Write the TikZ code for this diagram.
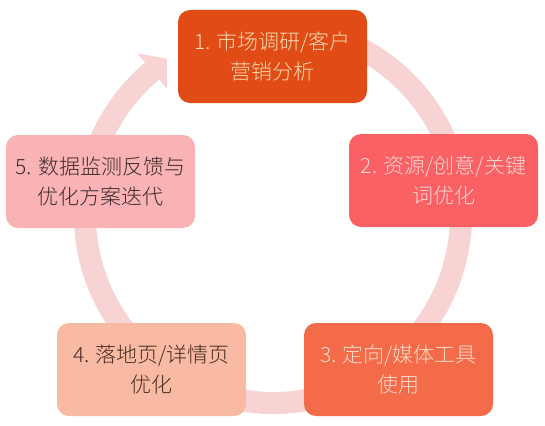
\documentclass[tikz,border=0pt]{standalone}
\usepackage{fontspec}
\usetikzlibrary{calc}
\newfontfamily\cjk{Noto Sans CJK SC Light}
\definecolor{ringc}{HTML}{F7D3D3}
\definecolor{c1}{HTML}{E14B15}
\definecolor{c2}{HTML}{F96164}
\definecolor{c3}{HTML}{F36B49}
\definecolor{c4}{HTML}{F8BAA3}
\definecolor{c5}{HTML}{F9B3B5}
\definecolor{t1}{HTML}{F8D9B0}
\definecolor{t2}{HTML}{FCD6D4}
\definecolor{t3}{HTML}{FBD8C8}
\definecolor{t4}{HTML}{4A2C22}
\definecolor{t5}{HTML}{3F2A2B}
\begin{document}
\begin{tikzpicture}[x=1pt,y=1pt,
  stepbox/.style={rounded corners=12pt, minimum width=189pt, minimum height=93pt,
    inner sep=0pt, align=center, font=\cjk\fontsize{21}{30}\selectfont},
  ringline/.style={draw=ringc, line width=22pt}]
\useasboundingbox (0,0) rectangle (545,-425);
\fill[white] (0,0) rectangle (545,-425);
\coordinate (c) at (273,-215);
% ring with arrow
\draw[ringline] (c) ++(80:188) arc[start angle=80, end angle=-230, radius=188];
\coordinate (wa) at ($(c)+(130:211)$);
\coordinate (tip) at ($(c)+(124.2:189)$);
\coordinate (wb) at ($(c)+(130:165)$);
\fill[ringc] (wa) -- (tip) -- (wb) -- cycle;
% boxes
\node[stepbox, fill=c1, text=t1] (b1) at (272.5,-56.5) {1. 市场调研/客户\\营销分析};
\node[stepbox, fill=c2, text=t2] (b2) at (443.5,-180.5) {2. 资源/创意/关键\\词优化};
\node[stepbox, fill=c3, text=t3] (b3) at (398.5,-369.5) {3. 定向/媒体工具\\使用};
\node[stepbox, fill=c4, text=t4] (b4) at (151.5,-369.5) {4. 落地页/详情页\\优化};
\node[stepbox, fill=c5, text=t5] (b5) at (100.5,-181.5) {5. 数据监测反馈与\\优化方案迭代};
\end{tikzpicture}
\end{document}
